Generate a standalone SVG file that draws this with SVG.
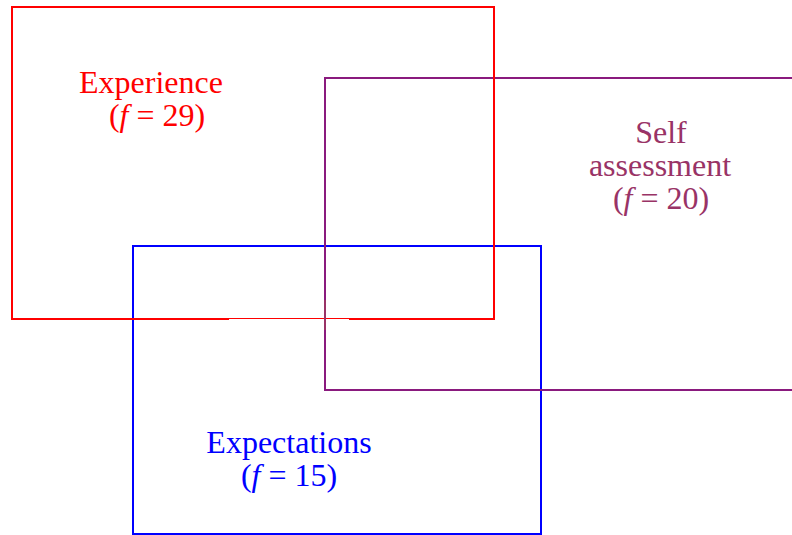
<svg xmlns="http://www.w3.org/2000/svg" width="792" height="535" viewBox="0 0 792 535">
<style>
.t{font-family:"Liberation Serif","Times New Roman",serif;font-size:32px;text-anchor:middle}
.i{font-style:italic}
.b{fill:none;stroke-width:2}
</style>
<rect width="792" height="535" fill="#fff"/>
<g id="connectors"></g>
<g id="expectations">
<rect class="b" x="133" y="246" width="408" height="288" stroke="#0000ff"/>
<text class="t" x="289" y="453" fill="#0000ff">Expectations</text>
<text class="t" x="289" y="486" fill="#0000ff">(<tspan class="i">f</tspan> = 15)</text>
</g>
<g id="self-assessment">
<path class="b" d="M792,78 H325 V390 H792" stroke="#8a1a7e"/>
<text class="t" x="661" y="143" fill="#993366">Self</text>
<text class="t" x="660" y="176" fill="#993366">assessment</text>
<text class="t" x="661" y="209" fill="#993366">(<tspan class="i">f</tspan> = 20)</text>
</g>
<g id="experience">
<path class="b" d="M229,319 H12 V7 H494 V319 H349" stroke="#ff0000"/>
<path d="M229,318.5 H349" stroke="#ff0000" stroke-width="1" fill="none"/>
<path d="M325,300 V330" stroke="#993366" stroke-width="2" fill="none"/>
<text class="t" x="151" y="93" fill="#ff0000">Experience</text>
<text class="t" x="157" y="126" fill="#ff0000">(<tspan class="i">f</tspan> = 29)</text>
</g>
</svg>
